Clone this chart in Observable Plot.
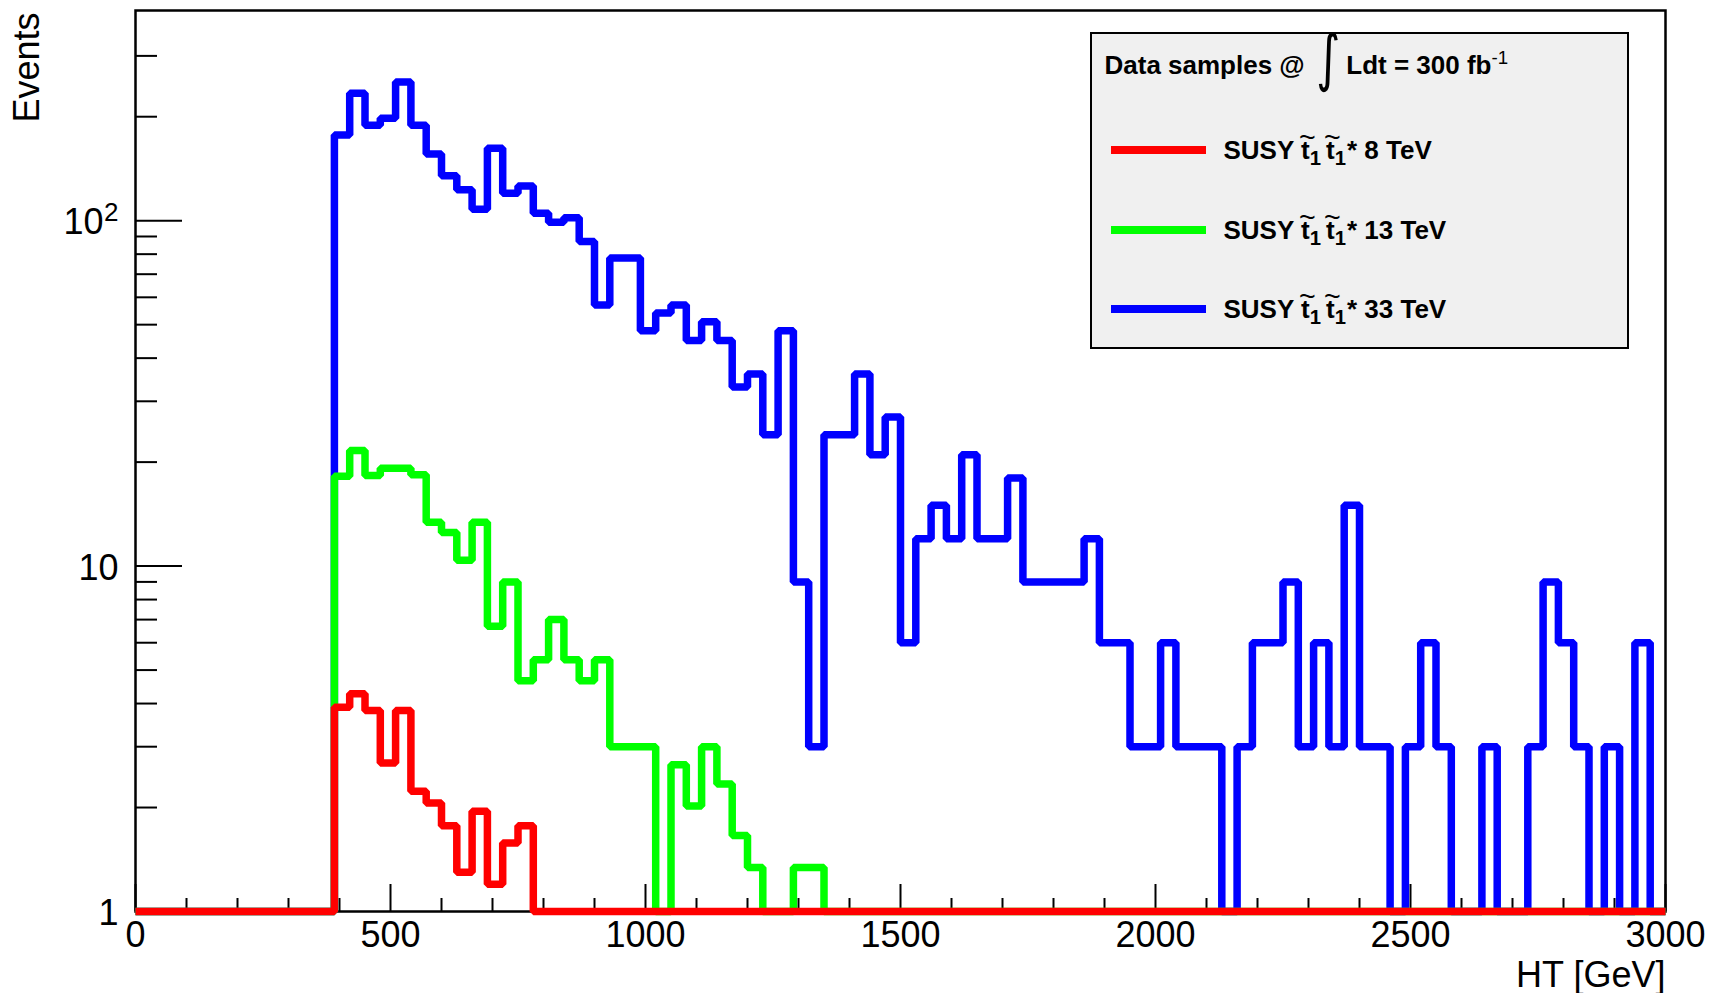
<!DOCTYPE html>
<html>
<head>
<meta charset="utf-8">
<script src="https://cdn.jsdelivr.net/npm/d3@7"></script>
<script src="https://cdn.jsdelivr.net/npm/@observablehq/plot@0.6"></script>
<style>
  html, body { margin: 0; padding: 0; background: #fff; }
  #wrap { position: relative; width: 1715px; height: 993px; overflow: hidden;
          font-family: "Liberation Sans", Arial, Helvetica, sans-serif; color: #000; }
  #legend { position: absolute; left: 1090px; top: 32px; width: 539px; height: 317px;
            box-sizing: border-box; border: 2.5px solid #000; background: #f0f0f0;
            font-weight: bold; font-size: 26px; white-space: nowrap; }
  .hdr { position: absolute; left: 12.5px; top: -1px; height: 40px; line-height: 40px; }
  .int { font-family: "DejaVu Sans", sans-serif; font-weight: normal; font-size: 62px;
         position: relative; top: 5px; margin: 0 2px 0 0; display: inline-block; transform: scaleX(0.75); }
  .sup { font-size: 0.72em; position: relative; top: -0.55em; font-weight: normal; }
  .row { position: absolute; left: 0; width: 100%; height: 40px; }
  .ln  { position: absolute; left: 18.5px; top: 16px; width: 95px; height: 8px; }
  .tx  { position: absolute; left: 131.5px; top: 0; height: 40px; line-height: 40px; }
  .t   { position: relative; display: inline-block; }
  .tl  { position: absolute; left: -2px; top: -13px; font-weight: normal; font-size: 1.1em; }
  .sub { font-size: 0.78em; position: relative; top: 0.32em; margin-right: 5px; }
  .sub.last { margin-right: 1px; }
</style>
</head>
<body>
<div id="wrap"></div>
<script>
// ---- histogram binning (GeV) ----
const binWidth = 30;

// ---- bin contents, bins [0,30), [30,60), ... [2970,3000) ----
const susy8TeV = [
  0,0,0,0,0,0,0,0,0,0,0,0,0,
  3.9,4.27,3.82,2.69,3.82,2.23,2.06,1.77,1.30,1.95,1.20,1.58,1.77,
  0,0,0,0,0,0,0,0,0,0,0,0,0,0,0,0,0,0,0,0,0,0,0,0,0,0,0,0,0,0,0,0,0,0,0,0,0,
  0,0,0,0,0,0,0,0,0,0,0,0,0,0,0,0,0,0,0,0,0,0,0,0,0,0,0,0,0,0,0,0,0,0,0,0,0
];
const susy13TeV = [
  0,0,0,0,0,0,0,0,0,0,0,0,0,
  18.2,21.6,18.3,19.2,19.2,18.4,13.4,12.5,10.4,13.4,
  6.7,9.0,4.66,5.36,7.0,5.36,4.66,5.36,3.0,3.0,
  3.0,0,2.66,2.02,3.0,2.34,1.66,1.34,0,0,
  1.34,1.34,
  0,0,0,0,0,0,0,0,0,0,0,0,0,0,0,0,0,0,0,0,0,0,0,0,0,0,0,0,
  0,0,0,0,0,0,0,0,0,0,0,0,0,0,0,0,0,0,0,0,0,0,0,0,0,0,0
];
const susy33TeV = [
  0,0,0,0,0,0,0,0,0,0,0,0,0,
  177,234,189,198,252,189,156,135,123,108,
  162,120,126,105,99,102,87,57,78,78,
  48,54,57,45,51,45,33,36,24,48,
  9,3,24,24,36,21,27,6,12,15,
  12,21,12,12,18,9,9,9,9,12,
  6,6,3,3,6,3,3,3,0,3,
  6,6,9,3,6,3,15,3,3,0,
  3,6,3,0,0,3,0,0,3,9,
  6,3,0,3,0,6,0
];

// ---- legend ----
const legendHeader = "Data samples @";
const legendLumi = "Ldt = 300 fb";
const legendLumiExp = "-1";
const seriesEnergy = ["8 TeV", "13 TeV", "33 TeV"];
const seriesColor = ["#ff0000", "#00ff00", "#0000ff"];

// ---- axes ----
const xDomain = [0, 3000];
const yDomain = [1, 406];
const xMajorTicks = [0, 500, 1000, 1500, 2000, 2500, 3000];
const xMinorTicks = [100,200,300,400,600,700,800,900,1100,1200,1300,1400,1600,1700,1800,1900,
                     2100,2200,2300,2400,2600,2700,2800,2900];
const yMajorTicks = [1, 10, 100];
const yMinorTicks = [2,3,4,5,6,7,8,9,20,30,40,50,60,70,80,90,200,300];
const yPlainLabels = [1, 10];
const yPowerLabel = [100];
const xTitle = "HT [GeV]";
const yTitle = "Events";

function steps(values) {
  const pts = values.map((v, i) => ({x: i * binWidth, v}));
  pts.push({x: values.length * binWidth, v: values[values.length - 1]});
  return pts;
}
const yv = d => Math.max(d.v, yDomain[0]);
const lineOpts = (color) => ({x: "x", y: yv, curve: "step-after", stroke: color, strokeWidth: 7.5,
                              strokeLinejoin: "miter", strokeLinecap: "butt"});

const plot = Plot.plot({
  width: 1715,
  height: 993,
  marginLeft: 135,
  marginRight: 50,
  marginTop: 10,
  marginBottom: 82,
  style: {fontFamily: '"Liberation Sans", Arial, Helvetica, sans-serif', fontSize: "36px",
          background: "white", color: "black", overflow: "visible"},
  x: {domain: xDomain},
  y: {type: "log", domain: yDomain},
  marks: [
    Plot.frame({stroke: "black", strokeWidth: 2.5}),
    Plot.axisX({ticks: xMinorTicks, tickSize: -13, strokeWidth: 2, fill: "none", label: null}),
    Plot.axisX({ticks: xMajorTicks, tickSize: -27, strokeWidth: 2, fill: "none", label: null}),
    Plot.axisX({ticks: xMajorTicks, tickSize: 0, tickPadding: 10, fontSize: 36, label: null,
                tickFormat: d => String(d)}),
    Plot.axisY({ticks: yMinorTicks, tickSize: -22, strokeWidth: 2, fill: "none", label: null}),
    Plot.axisY({ticks: yMajorTicks, tickSize: -47, strokeWidth: 2, fill: "none", label: null}),
    Plot.text(yPlainLabels, {y: d => d, frameAnchor: "left", text: d => String(d), textAnchor: "end",
                             lineAnchor: "middle", dx: -17, dy: 2, fontSize: 36}),
    Plot.text(yPowerLabel, {y: d => d, frameAnchor: "left", text: d => String(d / 10), textAnchor: "end",
                            lineAnchor: "middle", dx: -32, dy: 2, fontSize: 36}),
    Plot.text(yPowerLabel, {y: d => d, frameAnchor: "left", text: d => String(Math.log10(d)), textAnchor: "end",
                            lineAnchor: "bottom", dx: -17, dy: 0, fontSize: 26}),
    Plot.text([yTitle], {text: d => d, frameAnchor: "top-left", rotate: -90, textAnchor: "end",
                         lineAnchor: "top", dx: -122, dy: 2, fontSize: 36}),
    Plot.text([xTitle], {text: d => d, frameAnchor: "bottom-right", textAnchor: "end",
                         lineAnchor: "bottom", dx: 0, dy: 75, fontSize: 36}),
    Plot.line(steps(susy33TeV), lineOpts(seriesColor[2])),
    Plot.line(steps(susy13TeV), lineOpts(seriesColor[1])),
    Plot.line(steps(susy8TeV), lineOpts(seriesColor[0]))
  ]
});

const wrap = document.getElementById("wrap");
wrap.appendChild(plot);

// legend box
const lg = document.createElement("div");
lg.id = "legend";
const tt = (last) => `<span class="t">t<span class="tl">~</span></span><span class="sub${last ? " last" : ""}">1</span>`;
let html = `<div class="hdr">${legendHeader} <span class="int">\u222B</span>${legendLumi}<span class="sup">${legendLumiExp}</span></div>`;
const rowCenters = [116, 196, 275];
seriesEnergy.forEach((e, i) => {
  html += `<div class="row" style="top:${rowCenters[i] - 20}px"><div class="ln" style="background:${seriesColor[i]}"></div>` +
          `<div class="tx">SUSY ${tt(false)}${tt(true)}* ${e}</div></div>`;
});
lg.innerHTML = html;
wrap.appendChild(lg);
</script>
</body>
</html>
